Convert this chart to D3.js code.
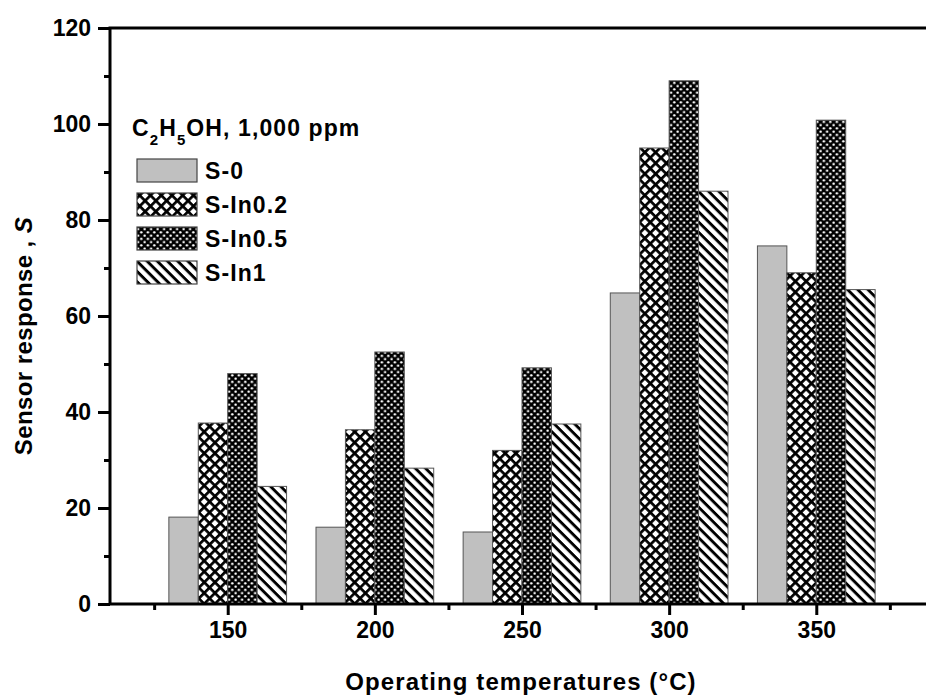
<!DOCTYPE html>
<html>
<head>
<meta charset="utf-8">
<script src="https://cdn.jsdelivr.net/npm/d3@7"></script>
<style>
  html, body { margin: 0; padding: 0; background: #fff; }
  svg { display: block; font-family: "Liberation Sans", Arial, sans-serif; font-weight: bold; }
</style>
</head>
<body>
<svg id="chart" width="926" height="698"></svg>
<script>
// Operating temperatures (°C)
const temperatures = [150, 200, 250, 300, 350];
// Sensor response S to 1,000 ppm C2H5OH for each sample
const seriesNames = ["S-0", "S-In0.2", "S-In0.5", "S-In1"];
const s0     = [18.1, 16.0, 15.0, 64.8, 74.6];
const sIn02  = [37.7, 36.3, 32.0, 95.0, 69.0];
const sIn05  = [48.0, 52.5, 49.2, 109.0, 100.8];
const sIn1   = [24.5, 28.3, 37.5, 86.0, 65.5];
const seriesValues = [s0, sIn02, sIn05, sIn1];
const yTicks = [0, 20, 40, 60, 80, 100, 120];
const yMinorTicks = [10, 30, 50, 70, 90, 110];
const xMinorTicks = [125, 175, 225, 275, 325, 375];

const svg = d3.select("#chart");

// Fill patterns for the four samples
const defs = svg.append("defs");
const cross = defs.append("pattern").attr("id", "pat-cross")
  .attr("patternUnits", "userSpaceOnUse").attr("width", 7.6).attr("height", 7.6)
  .attr("patternTransform", "rotate(45)");
cross.append("rect").attr("width", 7.6).attr("height", 7.6).attr("fill", "#fff");
cross.append("rect").attr("x", 0).attr("y", 0).attr("width", 2.7).attr("height", 7.6).attr("fill", "#000");
cross.append("rect").attr("x", 0).attr("y", 0).attr("width", 7.6).attr("height", 2.7).attr("fill", "#000");

const dots = defs.append("pattern").attr("id", "pat-dots")
  .attr("patternUnits", "userSpaceOnUse").attr("width", 6.5).attr("height", 6.5);
dots.append("rect").attr("width", 6.5).attr("height", 6.5).attr("fill", "#000");
dots.append("circle").attr("cx", 1.6).attr("cy", 1.6).attr("r", 1.25).attr("fill", "#fff");
dots.append("circle").attr("cx", 4.85).attr("cy", 4.85).attr("r", 1.25).attr("fill", "#fff");

const diag = defs.append("pattern").attr("id", "pat-diag")
  .attr("patternUnits", "userSpaceOnUse").attr("width", 7.2).attr("height", 7.2)
  .attr("patternTransform", "rotate(45)");
diag.append("rect").attr("width", 7.2).attr("height", 7.2).attr("fill", "#fff");
diag.append("rect").attr("x", 0).attr("y", 0).attr("width", 7.2).attr("height", 2.9).attr("fill", "#000");

const fills = ["#c0c0c0", "url(#pat-cross)", "url(#pat-dots)", "url(#pat-diag)"];

// Scales: each bar spans 10 °C on the temperature axis
const x = d3.scaleLinear().domain([110, 390]).range([110, 934]);
const y = d3.scaleLinear().domain([0, 120]).range([604, 28]);
const barSpan = 10;

// Bars
const bars = svg.append("g");
seriesValues.forEach((vals, si) => {
  bars.selectAll(null).data(temperatures.map((t, i) => ({ t, v: vals[i] })))
    .enter().append("rect")
    .attr("x", d => x(d.t - 2 * barSpan + si * barSpan))
    .attr("width", d => x(d.t + barSpan) - x(d.t))
    .attr("y", d => y(d.v))
    .attr("height", d => y(0) - y(d.v))
    .attr("fill", fills[si])
    .attr("stroke", "#555")
    .attr("stroke-width", 1);
});

// Axes
function styleAxis(g, width) {
  g.select(".domain").remove();
  g.selectAll(".tick line").attr("stroke", "#000").attr("stroke-width", width);
}
const tickFont = 23;

const xAxis = svg.append("g").attr("transform", `translate(0,${y(0)})`)
  .call(d3.axisBottom(x).tickValues(temperatures).tickSize(11).tickPadding(7).tickFormat(d3.format("d")));
styleAxis(xAxis, 3);
xAxis.selectAll("text").attr("font-size", tickFont).attr("font-weight", "bold").attr("fill", "#000")
  .attr("font-family", "Liberation Sans, Arial, sans-serif");
const xMinor = svg.append("g").attr("transform", `translate(0,${y(0)})`)
  .call(d3.axisBottom(x).tickValues(xMinorTicks).tickSize(6).tickFormat(""));
styleAxis(xMinor, 3);

const yAxis = svg.append("g").attr("transform", `translate(${x(110)},0)`)
  .call(d3.axisLeft(y).tickValues(yTicks).tickSize(12).tickPadding(7).tickFormat(d3.format("d")));
styleAxis(yAxis, 3);
yAxis.selectAll("text").attr("font-size", tickFont).attr("font-weight", "bold").attr("fill", "#000")
  .attr("font-family", "Liberation Sans, Arial, sans-serif");
const yMinor = svg.append("g").attr("transform", `translate(${x(110)},0)`)
  .call(d3.axisLeft(y).tickValues(yMinorTicks).tickSize(6).tickFormat(""));
styleAxis(yMinor, 3);

// Frame
svg.append("path")
  .attr("d", `M${x(110)},${y(0)} L${x(110)},${y(120)} L${x(390)},${y(120)} L${x(390)},${y(0)} Z`)
  .attr("fill", "none").attr("stroke", "#000").attr("stroke-width", 3);

// Axis titles
svg.append("text")
  .attr("x", 521).attr("y", 690)
  .attr("text-anchor", "middle").attr("font-size", 24).attr("letter-spacing", 1.1)
  .text("Operating temperatures (°C)");

svg.append("text")
  .attr("transform", "translate(32,336) rotate(-90)")
  .attr("text-anchor", "middle").attr("font-size", 24).attr("letter-spacing", 0.4)
  .call(t => {
    t.append("tspan").text("Sensor response , ");
    t.append("tspan").attr("font-style", "italic").text("S");
  });

// Legend
const legend = svg.append("g");
const lt = legend.append("text").attr("x", 132).attr("y", 136).attr("font-size", 23).attr("letter-spacing", 1.1);
lt.append("tspan").text("C");
lt.append("tspan").attr("font-size", 15).attr("dy", 9).text("2");
lt.append("tspan").attr("dy", -9).text("H");
lt.append("tspan").attr("font-size", 15).attr("dy", 9).text("5");
lt.append("tspan").attr("dy", -9).text("OH, 1,000 ppm");

seriesNames.forEach((name, i) => {
  const top = 159 + i * 34;
  legend.append("rect")
    .attr("x", 137).attr("y", top).attr("width", 60).attr("height", 23)
    .attr("fill", fills[i]).attr("stroke", "#444").attr("stroke-width", 1.2);
  legend.append("text")
    .attr("x", 205).attr("y", top + 20).attr("font-size", 23).attr("letter-spacing", 1.1)
    .text(name);
});
</script>
</body>
</html>
